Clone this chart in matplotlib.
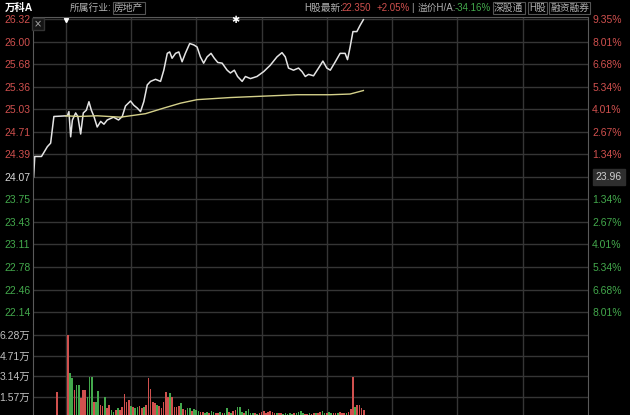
import matplotlib
matplotlib.use("Agg")
import matplotlib.pyplot as plt

plt.rcParams['font.family'] = ['Liberation Sans', 'Noto Sans CJK SC', 'DejaVu Sans']

# minutes after 9:30 (negative values = call auction 9:15-9:30)
price_minutes = [-14.7, -14.2, -11.1, -8.4, -6.9, -5.4, 0.8, 1.5, 2.3, 3.1, 4.6, 5.6, 6.9, 8.1, 9.5,
                 10.7, 11.8, 13.0, 14.5, 16.1, 17.6, 19.1, 22.0, 24.3, 26.0, 27.5, 29.8, 31.3, 32.9,
                 34.4, 35.9, 37.5, 39.0, 41.3, 43.6, 45.1, 46.7, 47.8, 48.9, 50.5, 52.0, 53.5, 55.0,
                 57.0, 58.9, 60.4, 61.9, 63.4, 65.0, 66.8, 68.3, 69.9, 71.9, 74.2, 75.7, 77.5, 79.0,
                 81.1, 82.6, 84.9, 87.9, 91.0, 94.0, 97.1, 99.4, 100.9, 102.4, 104.7, 107.0, 108.6,
                 110.1, 111.6, 113.9, 116.2, 118.2, 120.0, 121.6, 123.9, 126.1, 128.4, 129.5, 130.7,
                 132.0, 133.8, 135.3, 136.8]
prices = [24.07, 24.36, 24.36, 24.50, 24.55, 24.93, 24.94, 25.00, 24.64, 24.88, 24.98, 24.93, 24.68,
          24.98, 25.02, 25.14, 25.02, 24.93, 24.78, 24.86, 24.82, 24.88, 24.92, 24.88, 24.93, 25.08,
          25.15, 25.09, 25.05, 25.00, 25.14, 25.38, 25.43, 25.46, 25.43, 25.59, 25.83, 25.85, 25.76,
          25.83, 25.85, 25.71, 25.83, 25.97, 25.95, 25.92, 25.78, 25.69, 25.78, 25.83, 25.76, 25.70,
          25.69, 25.59, 25.55, 25.59, 25.50, 25.43, 25.50, 25.47, 25.50, 25.57, 25.66, 25.78, 25.84,
          25.78, 25.62, 25.59, 25.62, 25.57, 25.50, 25.53, 25.51, 25.62, 25.72, 25.62, 25.59, 25.71,
          25.83, 25.83, 25.74, 25.92, 26.14, 26.14, 26.23, 26.31]

avg_minutes = [0.0, 6.0, 14.5, 25.2, 29.8, 36.7, 45.1, 52.8, 60.4, 75.7, 91.0, 106.3, 121.6, 130.7, 136.8]
avg_prices = [24.94, 24.93, 24.94, 24.92, 24.94, 24.97, 25.05, 25.12, 25.17, 25.20, 25.22, 25.24,
              25.24, 25.25, 25.30]

vol_minutes = [-4] + list(range(1, 138))
volumes = [1.96,
           6.28, 3.36, 2.98, 2.08, 2.47, 2.47, 1.45, 2.08, 2.08, 1.57,
           3.10, 3.10, 1.19, 1.19, 2.03, 0.94, 0.86, 1.57, 0.69, 0.94,
           0.56, 0.43, 0.56, 0.69, 0.56, 0.81, 1.78, 1.19, 1.32, 0.86,
           0.81, 0.69, 0.76, 0.86, 0.69, 0.81, 0.94, 2.98, 2.14, 1.19,
           1.06, 0.94, 0.86, 0.69, 1.20, 1.90, 1.53, 1.85, 1.53, 0.76,
           0.81, 0.90, 1.11, 0.61, 0.56, 0.70, 0.74, 0.50, 0.61, 0.56,
           0.45, 0.40, 0.42, 0.35, 0.40, 0.30, 0.45, 0.40, 0.35, 0.30,
           0.40, 0.35, 0.30, 0.69, 0.40, 0.35, 0.45, 0.56, 0.81, 0.76,
           0.40, 0.35, 0.45, 0.61, 0.30, 0.35, 0.30, 0.25, 0.30, 0.40,
           0.45, 0.35, 0.40, 0.45, 0.40, 0.35, 0.30, 0.35, 0.30, 0.25,
           0.30, 0.25, 0.30, 0.25, 0.30, 0.35, 0.40, 0.45, 0.30, 0.25,
           0.25, 0.30, 0.25, 0.30, 0.35, 0.30, 0.40, 0.45, 0.30, 0.35,
           0.40, 0.30, 0.35, 0.30, 0.35, 0.40, 0.30, 0.35, 0.30, 0.40,
           0.60, 3.10, 0.81, 0.94, 0.94, 0.70, 0.56]
# r = up minute, g = down minute
vol_dir = ("r"
           "rggrggrrrg"
           "ggrggrrgrr"
           "ggrgrrrrrg"
           "rggrrgrrrr"
           "rgrrrrrgrr"
           "rrgrrggrgg"
           "grrggrggrr"
           "grggrgrrgg"
           "grggggrgrr"
           "rrrrrrgrrg"
           "ggggrggggr"
           "rgrrgrrggr"
           "ggrrgrrrgr"
           "rrgrrrr")

left_labels = ["26.32", "26.00", "25.68", "25.36", "25.03", "24.71", "24.39", "24.07",
               "23.75", "23.43", "23.11", "22.78", "22.46", "22.14"]
right_labels = ["9.35%", "8.01%", "6.68%", "5.34%", "4.01%", "2.67%", "1.34%", "",
                "1.34%", "2.67%", "4.01%", "5.34%", "6.68%", "8.01%"]
prev_close = "23.96"
vol_ticks = [1.57, 3.14, 4.71, 6.28]
vol_labels = ["1.57万", "3.14万", "4.71万", "6.28万"]
event_minutes = [0, 78]

RED = '#d0504e'
GREEN = '#43a84c'
GRID = '#353535'
AXIS = '#5a5a5a'

fig = plt.figure(figsize=(6.3, 4.15), dpi=100, facecolor='black')
L, W = 33 / 630, 555 / 630
ax = fig.add_axes([L, 1 - 324 / 415, W, 307 / 415])
axv = fig.add_axes([L, 0, W, 91 / 415])

step = (26.32 - 24.07) / 7
levels = [24.07 + (7 - k) * step for k in range(len(left_labels))]

for a in (ax, axv):
    a.set_facecolor('black')
    a.set_xlim(-15, 240)
    a.set_xticks(range(0, 240, 30))
    a.tick_params(axis='x', length=0, labelbottom=False)
    a.tick_params(axis='y', length=0, pad=2, labelsize=7.5)
    a.grid(True, color=GRID, lw=1)
    a.set_axisbelow(True)
    for s in ('left', 'right'):
        a.spines[s].set_color(AXIS)
    a.spines['bottom'].set_visible(False)
    a.spines['top'].set_visible(False)
ax.spines['top'].set_visible(True)
ax.spines['top'].set_color(AXIS)

ax.set_ylim(21.972, 26.348)
ax.set_yticks(levels)
ax.set_yticklabels(left_labels)
for i, t in enumerate(ax.get_yticklabels()):
    t.set_color(RED if i < 7 else ('#d8d8d8' if i == 7 else GREEN))

axr = ax.twinx()
axr.set_ylim(ax.get_ylim())
axr.set_yticks(levels)
axr.set_yticklabels(right_labels)
axr.tick_params(axis='y', length=0, pad=3, labelsize=7.5)
for s in axr.spines.values():
    s.set_visible(False)
for i, t in enumerate(axr.get_yticklabels()):
    t.set_color(RED if i < 7 else GREEN)

ax.plot(price_minutes, prices, color='#e4e4e4', lw=1.1)
ax.plot(avg_minutes, avg_prices, color='#d4d08a', lw=1)

axv.set_ylim(0.176, 7.12)
axv.set_yticks(vol_ticks)
axv.set_yticklabels(vol_labels, color='#c0c0c0')
axv.bar(vol_minutes, volumes, width=0.75, linewidth=0,
        color=[RED if d == 'r' else GREEN for d in vol_dir])

# event markers on top edge
ax.plot([event_minutes[0]], [26.31], marker='v', color='white', ms=3, clip_on=False)
ax.text(event_minutes[1], 26.30, '✱', color='white', fontsize=7, ha='center', va='center',
        family='DejaVu Sans')

# previous close box
fig.text(609 / 630, 1 - 177 / 415, prev_close, color='#cfcfcf', fontsize=7.5, ha='center', va='center',
         bbox=dict(boxstyle='square,pad=0.25', facecolor='#2e2e2e', edgecolor='#2e2e2e'))

# close icon
fig.text(38 / 630, 1 - 24 / 415, '×', color='#aaaaaa', fontsize=7, ha='center', va='center',
         family='DejaVu Sans',
         bbox=dict(boxstyle='square,pad=0.15', facecolor='#151515', edgecolor='#333333'))

# header
hy = 1 - 8 / 415
box = dict(boxstyle='square,pad=0.15', facecolor='black', edgecolor='#555555', lw=0.8)
fig.text(5 / 630, hy, '万科A', color='white', fontsize=7.5, fontweight='bold', va='center')
fig.text(70 / 630, hy, '所属行业:', color='#b0b0b0', fontsize=7, va='center')
fig.text(114 / 630, hy, '房地产', color='#b0b0b0', fontsize=7, va='center', bbox=box)
fig.text(304 / 630, hy, 'H股最新:', color='#b0b0b0', fontsize=7, va='center')
fig.text(342 / 630, hy, '22.350', color=RED, fontsize=7, va='center')
fig.text(377 / 630, hy, '+2.05%', color=RED, fontsize=7, va='center')
fig.text(411 / 630, hy, '|', color='#b0b0b0', fontsize=7, va='center')
fig.text(418 / 630, hy, '溢价H/A:', color='#b0b0b0', fontsize=7, va='center')
fig.text(455 / 630, hy, '-34.16%', color=GREEN, fontsize=7, va='center')
fig.text(494 / 630, hy, '深股通', color='#b0b0b0', fontsize=7, va='center', bbox=box)
fig.text(529 / 630, hy, 'H股', color='#b0b0b0', fontsize=7, va='center', bbox=box)
fig.text(550 / 630, hy, '融资融券', color='#b0b0b0', fontsize=7, va='center', bbox=box)

fig.savefig('out.png', dpi=100, facecolor='black')
